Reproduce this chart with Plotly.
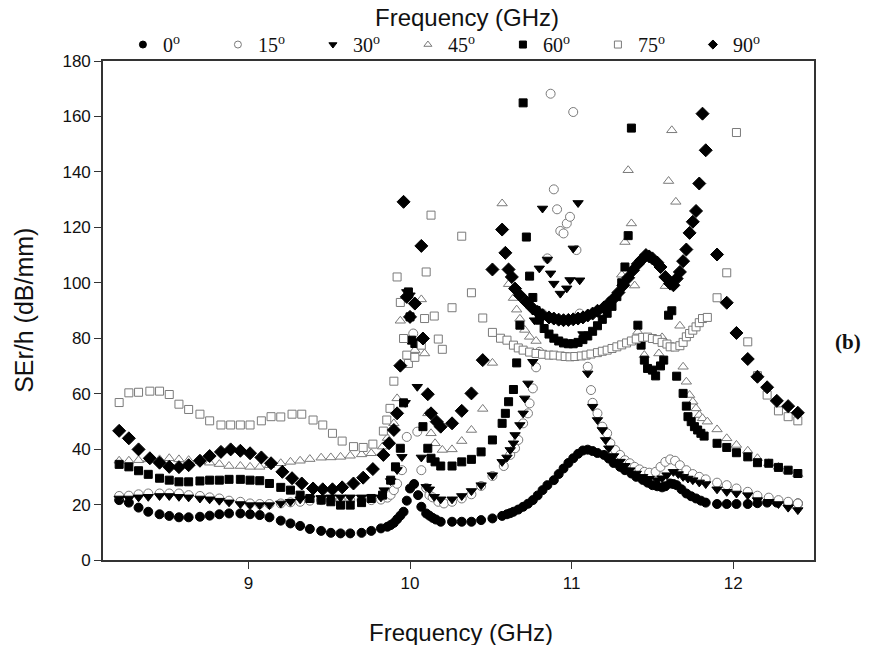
import plotly.graph_objects as go

# ---------------- data (frequency in GHz, SEr/h in dB/mm) ----------------
F0 = [8.20, 8.26, 8.32, 8.38, 8.45, 8.51, 8.57, 8.63, 8.70, 8.76,
      8.82, 8.88, 8.95, 9.01, 9.07, 9.13, 9.20, 9.26, 9.32, 9.38,
      9.45, 9.51, 9.57, 9.63, 9.70, 9.76, 9.82, 9.86, 9.88, 9.90,
      9.92, 9.94, 9.96, 9.98, 10.00, 10.025, 10.05, 10.07, 10.10, 10.12,
      10.14, 10.16, 10.19, 10.26, 10.32, 10.38, 10.44, 10.51, 10.57, 10.60,
      10.62, 10.64, 10.67, 10.70, 10.73, 10.76, 10.79, 10.82, 10.85, 10.89,
      10.92, 10.95, 10.98, 11.01, 11.04, 11.07, 11.10, 11.13, 11.16, 11.20,
      11.23, 11.26, 11.30, 11.33, 11.37, 11.40, 11.44, 11.47, 11.50, 11.53,
      11.56, 11.58, 11.61, 11.63, 11.65, 11.68, 11.71, 11.74, 11.77, 11.80,
      11.83, 11.90, 11.96, 12.02, 12.09, 12.15, 12.21, 12.27, 12.34, 12.40]
SE0 = [21.6, 20.7, 18.9, 17.4, 16.5, 15.9, 15.4, 15.4, 15.6, 16.0,
       16.5, 16.8, 16.8, 16.5, 16.2, 15.4, 14.2, 13.2, 12.3, 11.2,
       10.5, 9.8, 9.6, 9.6, 9.8, 10.5, 11.4, 12.0, 12.6, 13.4,
       14.7, 16.0, 17.4, 21.4, 25.8, 27.4, 23.4, 19.2, 16.8, 16.0,
       15.2, 14.6, 13.8, 13.8, 13.8, 13.8, 14.4, 15.0, 15.9, 16.5,
       16.9, 17.4, 18.2, 19.2, 20.3, 21.6, 23.3, 25.2, 27.0, 28.8,
       31.0, 33.0, 35.0, 36.7, 38.3, 39.5, 39.8, 39.3, 38.6, 37.9,
       36.6, 35.0, 33.6, 32.4, 31.2, 30.0, 28.9, 27.9, 27.0, 26.6,
       26.2, 26.6, 27.6, 27.4, 27.0, 25.5, 24.0, 23.0, 22.2, 21.4,
       20.7, 20.2, 20.2, 20.2, 20.2, 20.5, 20.7, 20.7, 20.5, 20.4]

F15 = [8.20, 8.26, 8.32, 8.38, 8.45, 8.51, 8.57, 8.63, 8.70, 8.76,
       8.82, 8.88, 8.95, 9.01, 9.07, 9.13, 9.20, 9.26, 9.32, 9.38,
       9.45, 9.51, 9.57, 9.63, 9.70, 9.76, 9.82, 9.86, 9.88, 9.90,
       9.92, 9.95, 9.98, 10.02, 10.045, 10.07, 10.10, 10.12, 10.14, 10.175,
       10.21, 10.26, 10.32, 10.38, 10.44, 10.51, 10.58, 10.62, 10.65, 10.67,
       10.70, 10.73, 10.74, 10.76, 10.78, 10.80, 10.82, 10.85, 10.87, 10.89,
       10.91, 10.93, 10.95, 10.97, 10.99, 11.01, 11.03, 11.05, 11.10, 11.12,
       11.13, 11.16, 11.19, 11.22, 11.24, 11.27, 11.30, 11.33, 11.36, 11.39,
       11.42, 11.45, 11.48, 11.52, 11.55, 11.58, 11.61, 11.64, 11.67, 11.71,
       11.75, 11.79, 11.83, 11.90, 11.96, 12.02, 12.09, 12.15, 12.22, 12.28,
       12.34, 12.40]
SE15 = [23.1, 23.2, 23.7, 24.0, 24.0, 24.0, 24.0, 23.4, 23.1, 22.6,
        22.2, 21.4, 21.0, 20.4, 20.2, 20.2, 20.4, 20.8, 21.0, 21.4,
        21.6, 21.6, 21.6, 21.6, 21.6, 21.6, 21.8, 22.5, 23.5, 25.2,
        27.5, 32.4, 44.4, 81.7, 46.3, 32.4, 26.0, 23.4, 22.6, 21.0,
        20.4, 21.0, 22.2, 23.7, 26.7, 30.3, 33.9, 37.9, 40.3, 43.3,
        49.3, 52.9, 56.5, 61.9, 69.5, 75.1, 88.9, 108.8, 168.2, 133.7,
        126.5, 118.7, 117.8, 121.4, 123.8, 161.6, 111.8, 88.9, 69.7, 61.3,
        56.7, 52.9, 48.1, 45.7, 42.1, 39.7, 37.9, 36.0, 34.9, 33.6,
        32.7, 31.8, 31.5, 31.8, 33.6, 35.4, 36.3, 35.8, 34.2, 32.4,
        31.0, 30.0, 29.1, 27.9, 27.0, 25.8, 24.6, 23.2, 22.5, 21.6,
        21.0, 20.4]

F30 = [8.20, 8.26, 8.32, 8.38, 8.45, 8.51, 8.57, 8.63, 8.70, 8.76,
       8.82, 8.88, 8.95, 9.01, 9.07, 9.13, 9.20, 9.26, 9.32, 9.38,
       9.45, 9.51, 9.57, 9.63, 9.70, 9.76, 9.82, 9.84, 9.88, 9.92,
       9.95, 9.97, 9.98, 10.00, 10.045, 10.07, 10.10, 10.12, 10.15, 10.19,
       10.26, 10.32, 10.38, 10.44, 10.51, 10.57, 10.60, 10.62, 10.64, 10.65,
       10.68, 10.70, 10.71, 10.73, 10.76, 10.77, 10.80, 10.82, 10.85, 10.87,
       10.89, 10.93, 10.97, 10.99, 11.01, 11.04, 11.05, 11.07, 11.10, 11.13,
       11.16, 11.19, 11.21, 11.23, 11.26, 11.30, 11.33, 11.36, 11.40, 11.44,
       11.48, 11.53, 11.56, 11.59, 11.63, 11.66, 11.69, 11.72, 11.75, 11.79,
       11.83, 11.90, 11.96, 12.02, 12.09, 12.15, 12.22, 12.28, 12.34, 12.40]
SE30 = [22.2, 22.2, 22.6, 22.8, 23.1, 23.1, 22.8, 22.6, 22.2, 21.9,
        21.4, 20.8, 20.2, 19.8, 19.8, 19.8, 20.4, 21.0, 21.9, 22.2,
        22.4, 22.6, 22.6, 22.6, 22.6, 22.6, 22.6, 25.2, 28.5, 32.5,
        37.2, 56.7, 96.7, 95.5, 62.5, 37.0, 26.4, 25.5, 22.8, 21.9,
        21.9, 23.1, 24.9, 27.0, 30.6, 35.4, 37.0, 39.7, 42.1, 45.1,
        48.7, 52.9, 58.3, 63.7, 71.5, 86.5, 105.2, 126.8, 108.4, 103.4,
        99.7, 96.1, 98.0, 101.0, 112.4, 128.8, 100.9, 81.5, 67.3, 55.3,
        50.5, 46.9, 43.3, 40.3, 37.5, 35.5, 34.0, 32.4, 31.2, 30.0,
        29.3, 28.8, 29.5, 30.6, 31.8, 31.0, 30.0, 29.4, 28.8, 28.0,
        27.4, 25.5, 24.6, 24.0, 23.4, 21.6, 21.0, 20.2, 18.9, 18.0]

F45 = [8.20, 8.26, 8.32, 8.38, 8.45, 8.51, 8.57, 8.63, 8.70, 8.76,
       8.82, 8.88, 8.95, 9.01, 9.07, 9.13, 9.20, 9.26, 9.32, 9.38,
       9.45, 9.51, 9.57, 9.63, 9.70, 9.76, 9.83, 9.86, 9.90, 9.92,
       9.94, 10.03, 10.07, 10.09, 10.11, 10.13, 10.155, 10.20, 10.26, 10.32,
       10.38, 10.45, 10.51, 10.57, 10.61, 10.64, 10.66, 10.68, 10.71, 10.74,
       10.78, 11.31, 11.33, 11.35, 11.37, 11.39, 11.41, 11.45, 11.54, 11.56,
       11.58, 11.60, 11.62, 11.645, 11.67, 11.69, 11.71, 11.73, 11.75, 11.77,
       11.79, 11.81, 11.84, 11.90, 11.96, 12.02, 12.09, 12.15, 12.22, 12.28,
       12.34, 12.40]
SE45 = [35.8, 35.8, 36.0, 36.3, 36.3, 36.7, 36.3, 36.0, 35.6, 35.1,
        34.6, 33.9, 33.9, 33.6, 33.6, 34.2, 34.9, 35.4, 35.8, 36.4,
        36.9, 37.0, 37.2, 37.6, 38.1, 38.5, 40.9, 44.0, 49.3, 58.3,
        86.3, 75.7, 94.0, 74.5, 52.9, 45.7, 42.1, 39.7, 39.9, 42.9,
        46.9, 54.5, 71.1, 128.6, 99.5, 94.5, 90.3, 87.0, 83.0, 80.5,
        79.0, 102.9, 114.7, 140.6, 121.4, 99.0, 82.3, 73.9, 74.5, 80.3,
        98.8, 136.7, 155.0, 129.2, 84.5, 69.7, 64.3, 59.5, 57.1, 54.7,
        52.3, 51.1, 49.9, 47.1, 43.9, 41.5, 39.4, 36.7, 34.9, 33.6,
        32.2, 31.0]

F60 = [8.20, 8.26, 8.32, 8.38, 8.45, 8.51, 8.57, 8.63, 8.70, 8.76,
       8.82, 8.88, 8.95, 9.01, 9.07, 9.13, 9.20, 9.26, 9.32, 9.38,
       9.45, 9.51, 9.57, 9.63, 9.70, 9.76, 9.83, 9.88, 9.91, 9.94,
       9.96, 9.99, 10.00, 10.01, 10.03, 10.08, 10.11, 10.13, 10.155, 10.19,
       10.26, 10.32, 10.38, 10.44, 10.51, 10.57, 10.59, 10.61, 10.64, 10.66,
       10.68, 10.70, 10.72, 10.74, 10.76, 10.78, 10.80, 10.83, 10.86, 10.89,
       10.92, 10.95, 10.98, 11.01, 11.04, 11.07, 11.10, 11.13, 11.16, 11.19,
       11.22, 11.25, 11.28, 11.31, 11.33, 11.35, 11.37, 11.41, 11.43, 11.45,
       11.47, 11.50, 11.52, 11.55, 11.57, 11.60, 11.62, 11.65, 11.69, 11.71,
       11.72, 11.74, 11.76, 11.78, 11.80, 11.82, 11.90, 11.96, 12.02, 12.09,
       12.15, 12.22, 12.28, 12.34, 12.40]
SE60 = [34.5, 33.6, 32.2, 30.9, 29.5, 28.8, 28.2, 28.2, 28.5, 28.8,
        28.8, 29.1, 29.1, 28.8, 28.6, 27.6, 26.2, 25.2, 23.4, 22.2,
        21.6, 21.0, 19.8, 19.8, 20.7, 22.2, 23.4, 28.8, 33.6, 40.3,
        56.7, 96.7, 87.7, 79.3, 78.1, 48.1, 40.3, 36.7, 35.4, 33.9,
        33.9, 35.4, 36.3, 39.0, 43.3, 49.3, 52.9, 57.1, 61.5, 71.1,
        84.7, 164.9, 116.5, 102.4, 94.7, 90.0, 86.5, 83.5, 81.5, 80.0,
        79.0, 78.3, 78.0, 78.0, 78.5, 79.5, 80.8, 82.5, 84.5, 86.8,
        89.0, 91.5, 95.0, 100.0, 105.7, 117.0, 155.8, 84.7, 77.5, 72.1,
        69.1, 68.5, 66.4, 70.0, 72.1, 88.3, 89.9, 66.3, 60.1, 55.5,
        51.7, 49.9, 48.1, 46.9, 45.7, 44.7, 42.1, 40.6, 38.7, 37.2,
        35.1, 34.9, 33.4, 32.4, 31.2]

F75 = [8.20, 8.26, 8.32, 8.39, 8.45, 8.51, 8.57, 8.63, 8.70, 8.76,
       8.83, 8.89, 8.95, 9.01, 9.08, 9.14, 9.20, 9.27, 9.33, 9.40,
       9.46, 9.52, 9.58, 9.65, 9.71, 9.77, 9.835, 9.856, 9.876, 9.90,
       9.92, 9.94, 9.96, 9.98, 9.99, 10.03, 10.07, 10.09, 10.10, 10.13,
       10.15, 10.175, 10.20, 10.26, 10.32, 10.38, 10.45, 10.51, 10.56, 10.60,
       10.64, 10.67, 10.70, 10.74, 10.78, 10.82, 10.86, 10.89, 10.93, 10.96,
       10.99, 11.02, 11.06, 11.09, 11.12, 11.16, 11.19, 11.22, 11.25, 11.28,
       11.31, 11.34, 11.37, 11.40, 11.44, 11.47, 11.50, 11.53, 11.56, 11.59,
       11.61, 11.64, 11.67, 11.69, 11.71, 11.73, 11.75, 11.77, 11.79, 11.81,
       11.84, 11.90, 11.96, 12.02, 12.09, 12.15, 12.21, 12.28, 12.34, 12.40]
SE75 = [56.8, 60.3, 60.5, 60.9, 60.9, 59.7, 56.2, 54.3, 52.6, 50.2,
        48.7, 48.7, 48.7, 48.7, 50.2, 51.7, 51.6, 52.6, 52.6, 50.5,
        48.7, 45.7, 42.9, 40.9, 40.6, 41.8, 46.5, 50.5, 54.7, 64.5,
        102.1, 92.9, 79.9, 73.9, 70.9, 73.1, 77.5, 87.1, 103.9, 124.4,
        88.0, 79.7, 76.0, 91.0, 116.8, 96.4, 87.3, 82.1, 80.0, 79.3,
        77.5, 76.5, 75.7, 75.0, 74.5, 74.2, 73.9, 73.9, 73.6, 73.4,
        73.3, 73.4, 73.6, 73.9, 74.3, 74.8, 75.3, 75.7, 76.3, 76.9,
        77.6, 78.3, 79.0, 79.7, 80.3, 80.4, 79.9, 79.5, 78.5, 77.9,
        76.9, 76.8, 77.3, 78.5, 80.5, 81.7, 82.9, 84.1, 85.6, 87.1,
        87.5, 94.6, 103.6, 154.2, 78.7, 66.5, 59.5, 53.8, 51.7, 50.2]

F90 = [8.20, 8.26, 8.32, 8.39, 8.45, 8.51, 8.57, 8.63, 8.70, 8.76,
       8.83, 8.89, 8.95, 9.01, 9.08, 9.14, 9.21, 9.27, 9.33, 9.40,
       9.46, 9.52, 9.58, 9.65, 9.71, 9.77, 9.835, 9.87, 9.90, 9.92,
       9.94, 9.96, 9.98, 10.00, 10.03, 10.07, 10.08, 10.11, 10.13, 10.165,
       10.19, 10.26, 10.32, 10.38, 10.45, 10.51, 10.57, 10.59, 10.61, 10.63,
       10.65, 10.68, 10.72, 10.76, 10.79, 10.82, 10.86, 10.89, 10.92, 10.95,
       10.98, 11.01, 11.04, 11.07, 11.10, 11.13, 11.16, 11.20, 11.23, 11.26,
       11.29, 11.32, 11.35, 11.38, 11.41, 11.43, 11.46, 11.48, 11.50, 11.53,
       11.55, 11.58, 11.61, 11.63, 11.65, 11.67, 11.69, 11.71, 11.73, 11.75,
       11.77, 11.79, 11.81, 11.83, 11.90, 11.96, 12.02, 12.09, 12.15, 12.21,
       12.27, 12.34, 12.40]
SE90 = [46.6, 43.9, 39.9, 36.7, 35.1, 33.6, 33.5, 34.2, 35.8, 37.5,
        39.0, 39.9, 39.4, 38.5, 37.0, 34.9, 31.8, 29.5, 27.6, 25.8,
        25.5, 25.5, 26.2, 27.6, 29.7, 32.8, 37.9, 42.1, 46.9, 52.9,
        70.1, 129.2, 94.9, 87.7, 92.5, 113.3, 79.9, 59.8, 52.9, 49.9,
        48.1, 49.3, 53.8, 60.1, 72.1, 104.8, 119.2, 110.8, 104.8, 102.1,
        97.9, 95.5, 93.1, 90.7, 89.5, 88.3, 87.5, 87.1, 86.7, 86.5,
        86.6, 86.8, 87.1, 87.5, 88.2, 88.9, 89.9, 91.1, 92.6, 94.3,
        96.5, 99.1, 101.8, 104.5, 106.8, 108.1, 110.0, 109.5, 108.8, 107.3,
        105.7, 102.1, 99.7, 99.1, 101.5, 103.9, 107.8, 112.0, 118.0, 122.0,
        125.9, 135.8, 161.0, 147.8, 110.2, 92.8, 81.9, 72.5, 66.1, 62.3,
        57.4, 55.5, 53.1]

LABELS = ["0<sup>o</sup>", "15<sup>o</sup>", "30<sup>o</sup>", "45<sup>o</sup>",
          "60<sup>o</sup>", "75<sup>o</sup>", "90<sup>o</sup>"]
Y_TICKS = [0, 20, 40, 60, 80, 100, 120, 140, 160, 180]
X_TICKS = [9, 10, 11, 12]

# ---------------- styles ----------------
BLACK = "#000000"
GRAY = "#7a7a7a"
series = [
    (F0, SE0, "circle", BLACK, BLACK, 9),
    (F15, SE15, "circle", "white", GRAY, 9),
    (F30, SE30, "triangle-down", BLACK, BLACK, 9),
    (F45, SE45, "triangle-up", "white", GRAY, 9),
    (F60, SE60, "square", BLACK, BLACK, 8),
    (F75, SE75, "square", "white", GRAY, 8),
    (F90, SE90, "diamond", BLACK, BLACK, 10),
]

fig = go.Figure()
for i, ((fx, fy, sym, fill, edge, size), name) in enumerate(zip(series, LABELS)):
    fig.add_trace(go.Scatter(
        x=fx, y=fy, mode="markers", name=name, legendgroup=str(i),
        showlegend=False,
        marker=dict(symbol=sym, size=size, color=fill,
                    line=dict(color=edge, width=1)),
    ))
# legend entries (smaller symbols, as in the reference key)
for i, ((fx, fy, sym, fill, edge, size), name) in enumerate(zip(series, LABELS)):
    fig.add_trace(go.Scatter(
        x=[None], y=[None], mode="markers", name=name, legendgroup=str(i),
        showlegend=True,
        marker=dict(symbol=sym, size=7, color=fill,
                    line=dict(color=edge, width=1)),
    ))

SANS = "Liberation Sans, Arial, sans-serif"
SERIF = "Liberation Serif, Times New Roman, serif"
AXCOL = "#333333"

fig.update_layout(
    width=886, height=645,
    margin=dict(l=103, r=72, t=61, b=85),
    paper_bgcolor="white", plot_bgcolor="white",
    showlegend=True,
    legend=dict(orientation="h", x=0.028, y=1.033, xanchor="left", yanchor="middle",
                font=dict(family=SERIF, size=20, color="#111"),
                entrywidth=50, entrywidthmode="pixels",
                bgcolor="rgba(0,0,0,0)", borderwidth=0),
    xaxis=dict(range=[8.1, 12.5], tickvals=X_TICKS, ticks="outside", ticklen=7,
               tickwidth=1.2, tickcolor=AXCOL, showline=True, linecolor=AXCOL,
               linewidth=1.6, mirror=True, showgrid=False, zeroline=False,
               tickfont=dict(family=SANS, size=17, color="#111")),
    yaxis=dict(range=[0, 180], tickvals=Y_TICKS, ticks="outside", ticklen=7,
               tickwidth=1.2, tickcolor=AXCOL, showline=True, linecolor=AXCOL,
               linewidth=1.6, mirror=True, showgrid=False, zeroline=False,
               tickfont=dict(family=SANS, size=17, color="#111")),
    annotations=[
        dict(text="Frequency (GHz)", xref="paper", yref="paper", x=0.503, y=-0.145,
             xanchor="center", yanchor="middle", showarrow=False,
             font=dict(family=SANS, size=24, color="#111")),
        dict(text="Frequency (GHz)", xref="paper", yref="paper", x=0.512, y=1.088,
             xanchor="center", yanchor="middle", showarrow=False,
             font=dict(family=SANS, size=24, color="#111")),
        dict(text="SEr/h (dB/mm)", xref="paper", yref="paper", x=-0.112, y=0.50,
             xanchor="center", yanchor="middle", showarrow=False, textangle=-90,
             font=dict(family=SANS, size=25, color="#111")),
        dict(text="<b>(b)</b>", xref="paper", yref="paper", x=1.048, y=0.437,
             xanchor="center", yanchor="middle", showarrow=False,
             font=dict(family=SERIF, size=21, color="#111")),
    ],
)

fig.write_html("out.html", config={"displayModeBar": False},
               post_script="document.body.style.margin='0';document.body.style.overflow='hidden';")
